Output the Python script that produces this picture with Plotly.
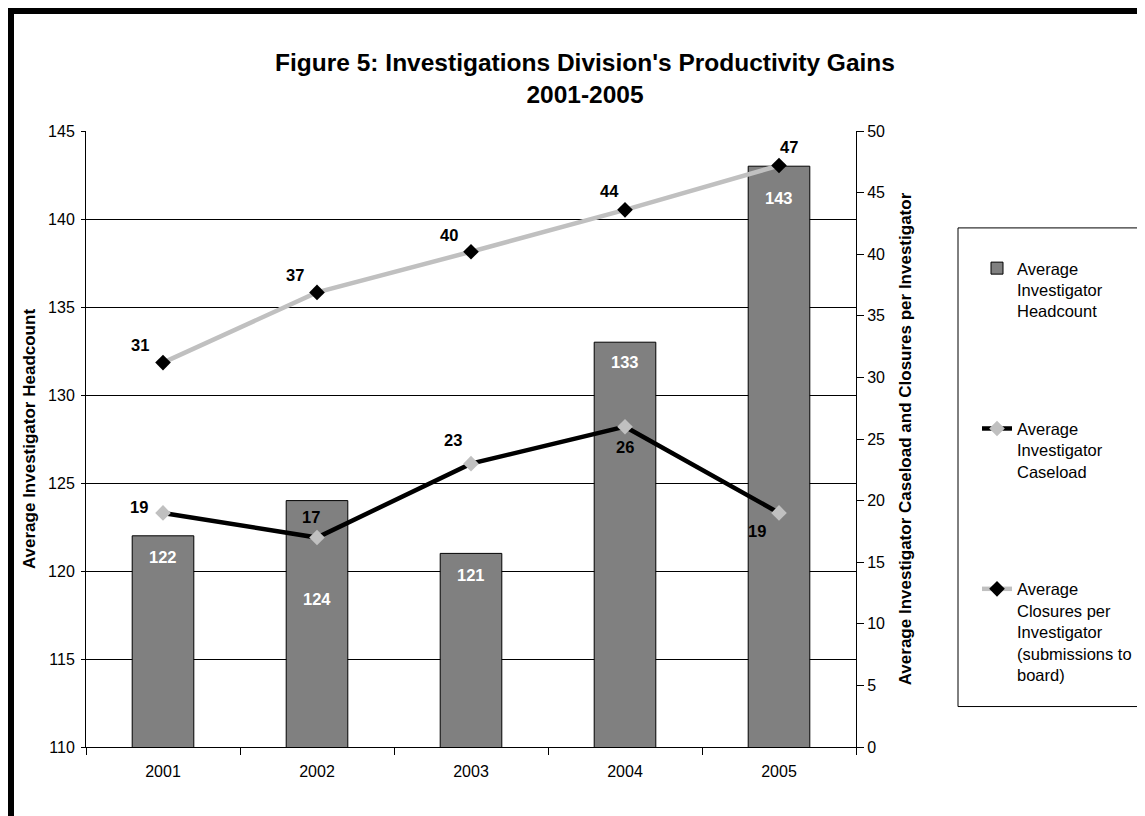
import plotly.graph_objects as go

# ---------------- data ----------------
years = ["2001", "2002", "2003", "2004", "2005"]
headcount = [122, 124, 121, 133, 143]
caseload = [19.0, 17.0, 23.0, 26.0, 19.0]
closures = [31.2, 36.9, 40.2, 43.6, 47.2]
headcount_labels = ["122", "124", "121", "133", "143"]
caseload_labels = ["19", "17", "23", "26", "19"]
closures_labels = ["31", "37", "40", "44", "47"]

left_ticks = [110, 115, 120, 125, 130, 135, 140, 145]
right_ticks = [0, 5, 10, 15, 20, 25, 30, 35, 40, 45, 50]

# ---------------- style / layout constants ----------------
OFF = 8                      # page body margin
W, H = 1145 - OFF, 816 - OFF
# plot area in page pixels
PL, PR, PT, PB = 86, 856, 131, 747.5
FONT = "Liberation Sans, Arial, sans-serif"

# label offsets (pixels) for data labels
bar_label_yshift = [-21, -98, -22, -20, -32]
case_label_shift = [(-24, 6), (-6, 21), (-18, 24), (0, -20), (-22, -18)]
clos_label_shift = [(-23, 18), (-22, 17), (-22, 17), (-16, 19), (10, 19)]


def px_x(p):
    return (p - PL) / (PR - PL)


def px_y(p):
    return (PB - p) / (PB - PT)


fig = go.Figure()

fig.add_trace(go.Bar(
    x=years, y=headcount, name="Average<br>Investigator<br>Headcount",
    marker=dict(color="#808080", line=dict(color="#000000", width=1)),
    width=0.4, yaxis="y", legendgroup="a",
))
fig.add_trace(go.Scatter(
    x=years, y=caseload, name="Average<br>Investigator<br>Caseload",
    mode="lines+markers", yaxis="y2", legendgroup="b",
    line=dict(color="#000000", width=4.5),
    marker=dict(symbol="diamond", size=12, color="#C0C0C0", line=dict(width=0)),
))
fig.add_trace(go.Scatter(
    x=years, y=closures,
    name="Average<br>Closures per<br>Investigator<br>(submissions to<br>board)",
    mode="lines+markers", yaxis="y2", legendgroup="c",
    line=dict(color="#C0C0C0", width=4.5),
    marker=dict(symbol="diamond", size=12, color="#000000", line=dict(width=0)),
))

annotations = []
for i in range(len(years)):
    annotations.append(dict(
        x=i, y=headcount[i], xref="x", yref="y", text="<b>" + headcount_labels[i] + "</b>",
        showarrow=False, font=dict(family=FONT, size=16.5, color="#FFFFFF"),
        yshift=bar_label_yshift[i]))
    dx, dy = case_label_shift[i]
    annotations.append(dict(
        x=i, y=caseload[i], xref="x", yref="y2", text="<b>" + caseload_labels[i] + "</b>",
        showarrow=False, font=dict(family=FONT, size=16.5, color="#000000"),
        xshift=dx, yshift=dy))
    dx, dy = clos_label_shift[i]
    annotations.append(dict(
        x=i, y=closures[i], xref="x", yref="y2", text="<b>" + closures_labels[i] + "</b>",
        showarrow=False, font=dict(family=FONT, size=16.5, color="#000000"),
        xshift=dx, yshift=dy))

shapes = [
    # outer chart border (thick black, right/bottom run off the page)
    dict(type="rect", xref="paper", yref="paper",
         x0=px_x(11), x1=px_x(1185), y0=px_y(11), y1=px_y(860),
         line=dict(color="#000000", width=6), fillcolor="rgba(0,0,0,0)", layer="above"),
    # legend box
    dict(type="rect", xref="paper", yref="paper",
         x0=px_x(958), x1=px_x(1170), y0=px_y(228), y1=px_y(707),
         line=dict(color="#000000", width=1), fillcolor="rgba(0,0,0,0)", layer="above"),
]

fig.update_layout(
    width=W, height=H,
    margin=dict(l=PL - OFF, r=W - (PR - OFF), t=PT - OFF, b=H - (PB - OFF), pad=0,
                autoexpand=False),
    paper_bgcolor="#FFFFFF", plot_bgcolor="#FFFFFF",
    font=dict(family=FONT, size=16, color="#000000"),
    title=dict(
        text="<b>Figure 5: Investigations Division's Productivity Gains<br>2001-2005</b>",
        font=dict(family=FONT, size=24.5, color="#000000"),
        x=(585 - OFF) / W, xref="container", xanchor="center",
        y=1 - (71 - OFF) / H, yref="container", yanchor="middle"),
    xaxis=dict(
        type="category", range=[-0.5, 4.5], showline=True, linecolor="#000000", linewidth=1,
        ticks="outside", tickson="boundaries", ticklen=7, tickcolor="#000000",
        ticklabelstandoff=10, showgrid=False, zeroline=False,
        tickfont=dict(family=FONT, size=16)),
    yaxis=dict(
        range=[110, 145], tickvals=left_ticks, showline=True, linecolor="#000000", linewidth=1,
        ticks="outside", ticklen=4, tickcolor="#000000", showgrid=True,
        gridcolor="#000000", gridwidth=1, zeroline=False,
        tickfont=dict(family=FONT, size=16), ticklabelstandoff=3,
        title=dict(text="<b>Average Investigator Headcount</b>",
                   font=dict(family=FONT, size=17), standoff=8)),
    yaxis2=dict(
        range=[0, 50], tickvals=right_ticks, overlaying="y", side="right",
        showline=True, linecolor="#000000", linewidth=1,
        ticks="outside", ticklen=7, tickcolor="#000000", showgrid=False, zeroline=False,
        tickfont=dict(family=FONT, size=16),
        title=dict(text="<b>Average Investigator Caseload and Closures per Investigator</b>",
                   font=dict(family=FONT, size=17), standoff=15)),
    legend=dict(
        x=px_x(977), xanchor="left", y=px_y(251), yanchor="top",
        bgcolor="rgba(0,0,0,0)", borderwidth=0, valign="top",
        font=dict(family=FONT, size=16.5, color="#000000"),
        tracegroupgap=93, traceorder="grouped"),
    showlegend=True,
    bargap=0.6,
    annotations=annotations,
    shapes=shapes,
)

fig.write_html("out.html")
